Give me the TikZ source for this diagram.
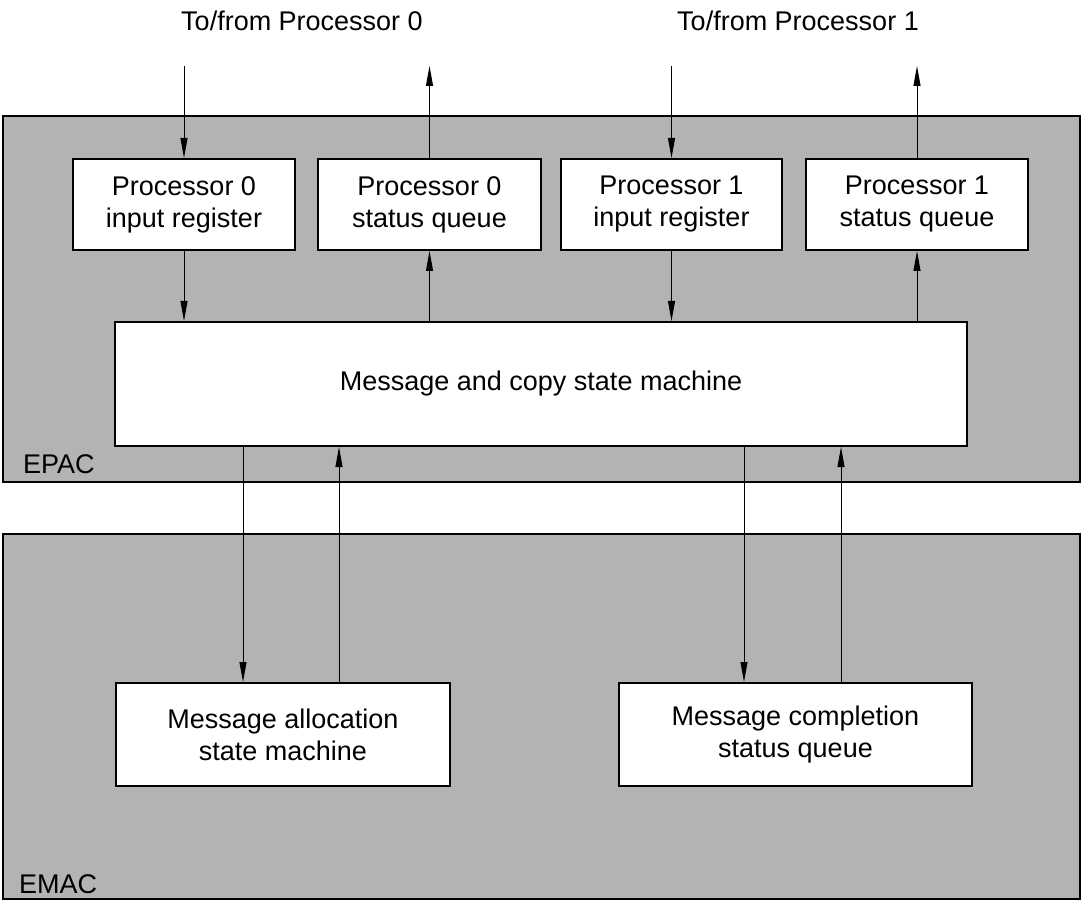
\documentclass[tikz,border=0pt]{standalone}
\usepackage{fontspec}
\setmainfont{Liberation Sans}
\usetikzlibrary{arrows.meta}
\definecolor{panelgray}{RGB}{179,179,179}
\begin{document}
\begin{tikzpicture}[x=1pt,y=-1pt,
  panel/.style={draw=black, line width=2pt, fill=panelgray, inner sep=0pt},
  unit/.style={draw=black, line width=2pt, fill=white, inner sep=0pt,
    align=center, font=\fontsize{27}{32}\selectfont},
  link/.style={line width=1pt, -{Triangle[length=20pt,width=7pt]}},
  lbl/.style={font=\fontsize{27}{32}\selectfont, inner sep=0pt}]
\useasboundingbox (0,0) rectangle (1084,901);

% enclosing blocks
\node[panel, minimum width=1077pt, minimum height=366pt] (epac) at (541.5,299) {};
\node[panel, minimum width=1077pt, minimum height=365pt] (emac) at (541.5,716.5) {};
\node[lbl, anchor=base west] (epaclbl) at (23,473) {EPAC};
\node[lbl, anchor=base west] (emaclbl) at (19,893) {EMAC};

% EPAC units
\node[unit, minimum width=222pt, minimum height=91pt] (p0in) at (184,204.5) {Processor 0\\input register};
\node[unit, minimum width=223pt, minimum height=91pt] (p0st) at (429.5,204.5) {Processor 0\\status queue};
\node[unit, minimum width=221pt, minimum height=91pt] (p1in) at (671.5,204.5) {Processor 1\\input register};
\node[unit, minimum width=222pt, minimum height=91pt] (p1st) at (917,204.5) {Processor 1\\status queue};
\node[unit, minimum width=852pt, minimum height=124pt] (msm) at (541,384) {Message and copy state machine};

% EMAC units
\node[unit, minimum width=334pt, minimum height=103pt] (alloc) at (283,734.5) {Message allocation\\state machine};
\node[unit, minimum width=353pt, minimum height=103pt] (compl) at (795.5,734.5) {Message completion\\status queue};

% processor interfaces
\node[lbl] (to0) at (302,21) {To/from Processor 0};
\node[lbl] (to1) at (798,21) {To/from Processor 1};
\coordinate (in0) at (184,66);
\coordinate (out0) at (429.5,66);
\coordinate (in1) at (671.5,66);
\coordinate (out1) at (917,66);

\draw[link] (in0) -- (p0in.north);
\draw[link] (p0st.north) -- (out0);
\draw[link] (in1) -- (p1in.north);
\draw[link] (p1st.north) -- (out1);

\draw[link] (p0in.south) -- (p0in.south |- msm.north);
\draw[link] (p0st.south |- msm.north) -- (p0st.south);
\draw[link] (p1in.south) -- (p1in.south |- msm.north);
\draw[link] (p1st.south |- msm.north) -- (p1st.south);

% links between the blocks
\coordinate (a1) at (243,0);
\coordinate (a2) at (339,0);
\coordinate (c1) at (744,0);
\coordinate (c2) at (841,0);
\draw[link] (msm.south -| a1) -- (alloc.north -| a1);
\draw[link] (alloc.north -| a2) -- (msm.south -| a2);
\draw[link] (msm.south -| c1) -- (compl.north -| c1);
\draw[link] (compl.north -| c2) -- (msm.south -| c2);
\end{tikzpicture}
\end{document}
